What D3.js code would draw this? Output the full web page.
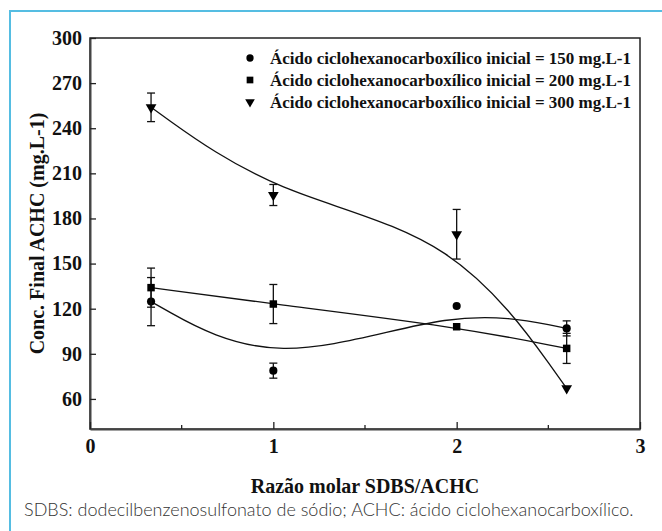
<!DOCTYPE html>
<html>
<head>
<meta charset="utf-8">
<script src="https://cdn.jsdelivr.net/npm/d3@7"></script>
<style>
  body { margin: 0; background: #fff; }
  svg { display: block; }
</style>
</head>
<body>
<div id="chart"></div>
<script>
// razão molar SDBS/ACHC
const ratios = [0.333, 1, 2, 2.6];

const conc150 = [124.7, 78.8, 121.8, 106.9];
const err150 = [16, 5, 0, 5];
const conc200 = [134, 123.1, 108, 93.6];
const err200 = [13, 13, 0, 10];
const conc300 = [253.9, 195.6, 169.5, 67];
const err300 = [9.5, 7, 16.5, 0];

const seriesNames = [
    'Ácido ciclohexanocarboxílico inicial = 150 mg.L-1',
    'Ácido ciclohexanocarboxílico inicial = 200 mg.L-1',
    'Ácido ciclohexanocarboxílico inicial = 300 mg.L-1'
];
const yTicks = [60, 90, 120, 150, 180, 210, 240, 270, 300];
const xTicks = [0, 1, 2, 3];
const caption = 'SDBS: dodecilbenzenosulfonato de sódio; ACHC: ácido ciclohexanocarboxílico.';

const width = 662, height = 531;
const margin = { left: 90, right: 22, top: 38, bottom: 102 };
const serif = '"Liberation Serif", "Times New Roman", serif';

const svg = d3.select('#chart').append('svg')
    .attr('width', width)
    .attr('height', height);

// blue frame (left and top only visible)
svg.append('path')
    .attr('d', `M10,${height + 5}V11H${width + 5}`)
    .attr('fill', 'none')
    .attr('stroke', '#55bde2')
    .attr('stroke-width', 2);

const x = d3.scaleLinear().domain([0, 3]).range([margin.left, width - margin.right]);
const y = d3.scaleLinear().domain([40, 300]).range([height - margin.bottom, margin.top]);

// plot box
svg.append('rect')
    .attr('x', x(0))
    .attr('y', y(300))
    .attr('width', x(3) - x(0))
    .attr('height', y(40) - y(300))
    .attr('fill', 'none')
    .attr('stroke', '#222')
    .attr('stroke-width', 1.5);

// y axis
const yAxis = svg.append('g')
    .attr('transform', `translate(${x(0)},0)`)
    .call(d3.axisLeft(y).tickValues(yTicks).tickSize(0).tickPadding(8));
yAxis.select('.domain').attr('stroke', '#444').attr('stroke-width', 2);
yAxis.selectAll('.tick line').remove();
yAxis.selectAll('.tick').append('line')
    .attr('x1', 0).attr('x2', 6)
    .attr('stroke', '#222').attr('stroke-width', 1.3);
yAxis.selectAll('text')
    .attr('font-family', serif)
    .attr('font-weight', 'bold')
    .attr('font-size', 20)
    .attr('fill', '#111');

// x axis
const xAxis = svg.append('g')
    .attr('transform', `translate(0,${y(40)})`)
    .call(d3.axisBottom(x).tickValues(xTicks).tickFormat(d3.format('d')).tickSize(0).tickPadding(10));
xAxis.select('.domain').attr('stroke', '#444').attr('stroke-width', 2);
xAxis.selectAll('.tick line').remove();
xAxis.selectAll('.tick').append('line')
    .attr('y1', 0).attr('y2', -7)
    .attr('stroke', '#222').attr('stroke-width', 1.3);
xAxis.selectAll('text')
    .attr('font-family', serif)
    .attr('font-weight', 'bold')
    .attr('font-size', 20)
    .attr('fill', '#111');
// minor ticks
xAxis.selectAll('.minor').data([0.5, 1.5, 2.5]).join('line')
    .attr('class', 'minor')
    .attr('x1', d => x(d)).attr('x2', d => x(d))
    .attr('y1', 0).attr('y2', -4)
    .attr('stroke', '#222').attr('stroke-width', 1.3);

// axis titles
svg.append('text')
    .attr('x', (x(0) + x(3)) / 2)
    .attr('y', 493)
    .attr('text-anchor', 'middle')
    .attr('font-family', serif)
    .attr('font-weight', 'bold')
    .attr('font-size', 20)
    .attr('fill', '#111')
    .text('Razão molar SDBS/ACHC');

svg.append('text')
    .attr('transform', `translate(44,${(y(40) + y(300)) / 2}) rotate(-90)`)
    .attr('text-anchor', 'middle')
    .attr('font-family', serif)
    .attr('font-weight', 'bold')
    .attr('font-size', 20)
    .attr('fill', '#111')
    .text('Conc. Final ACHC (mg.L-1)');

const series = [
    { values: conc150, errs: err150, shape: d3.symbolCircle, size: 52, rot: 0 },
    { values: conc200, errs: err200, shape: d3.symbolSquare, size: 56, rot: 0 },
    { values: conc300, errs: err300, shape: d3.symbolTriangle, size: 50, rot: 180 }
];

const line = d3.line()
    .x(d => x(d[0]))
    .y(d => y(d[1]))
    .curve(d3.curveBasis);

series.forEach(s => {
    const pts = ratios.map((r, i) => [r, s.values[i], s.errs[i]]);

    svg.append('path')
        .datum(pts)
        .attr('d', line)
        .attr('fill', 'none')
        .attr('stroke', '#111')
        .attr('stroke-width', 1.3);

    const eb = svg.append('g').selectAll('g').data(pts.filter(p => p[2] > 0)).join('g');
    eb.append('line')
        .attr('x1', d => x(d[0])).attr('x2', d => x(d[0]))
        .attr('y1', d => y(d[1] - d[2])).attr('y2', d => y(d[1] + d[2]))
        .attr('stroke', '#111').attr('stroke-width', 1.3);
    eb.append('line')
        .attr('x1', d => x(d[0]) - 4).attr('x2', d => x(d[0]) + 4)
        .attr('y1', d => y(d[1] - d[2])).attr('y2', d => y(d[1] - d[2]))
        .attr('stroke', '#111').attr('stroke-width', 1.3);
    eb.append('line')
        .attr('x1', d => x(d[0]) - 4).attr('x2', d => x(d[0]) + 4)
        .attr('y1', d => y(d[1] + d[2])).attr('y2', d => y(d[1] + d[2]))
        .attr('stroke', '#111').attr('stroke-width', 1.3);

    svg.append('g').selectAll('path').data(pts).join('path')
        .attr('d', d3.symbol().type(s.shape).size(s.size))
        .attr('transform', d => `translate(${x(d[0])},${y(d[1])}) rotate(${s.rot})`)
        .attr('fill', '#000');
});

// legend
const legend = svg.append('g').selectAll('g').data(seriesNames).join('g')
    .attr('transform', (d, i) => `translate(250,${58 + i * 22})`);
legend.append('path')
    .attr('d', (d, i) => d3.symbol().type(series[i].shape).size(series[i].size * 0.8)())
    .attr('transform', (d, i) => `rotate(${series[i].rot})`)
    .attr('fill', '#000');
legend.append('text')
    .attr('x', 20)
    .attr('y', 6)
    .attr('font-family', serif)
    .attr('font-weight', 'bold')
    .attr('font-size', 17)
    .attr('fill', '#111')
    .text(d => d);

// caption
svg.append('text')
    .attr('x', 24)
    .attr('y', 516)
    .attr('font-family', 'Lato, "Open Sans", sans-serif')
    .attr('font-weight', 300)
    .attr('font-size', 18)
    .attr('fill', '#333')
    .text(caption);
</script>
</body>
</html>
